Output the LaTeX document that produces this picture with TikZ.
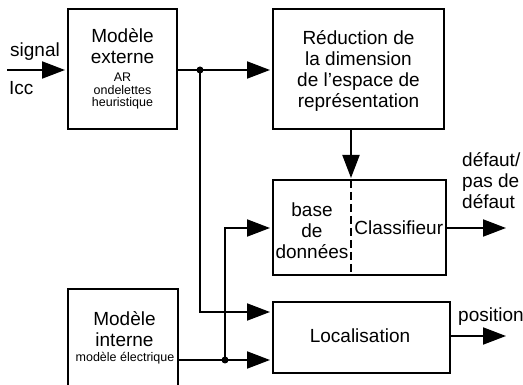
\documentclass[tikz,border=0pt]{standalone}
\usepackage{fontspec}
\setmainfont{Liberation Sans}
\usetikzlibrary{arrows.meta}
\begin{document}
\begin{tikzpicture}[x=1pt,y=-1pt,
  box/.style={draw,line width=2pt,inner sep=0pt},
  txt/.style={inner sep=0pt,align=center},
  big/.style={font=\fontsize{19}{21}\selectfont},
  small/.style={font=\fontsize{12.5}{12.5}\selectfont},
  conn/.style={line width=2pt},
  arr/.style={conn,-{Triangle[length=23pt,width=17pt]},shorten >=2pt},
  jdot/.style={circle,fill,inner sep=0pt,minimum size=7pt}]
\clip (0,0) rectangle (523,385);
% boxes
\node[box,minimum width=109pt,minimum height=120pt] (me) at (122.5,69) {};
\node[box,minimum width=171pt,minimum height=120pt] (red) at (358.5,69) {};
\node[box,minimum width=173pt,minimum height=95pt] (cls) at (359.5,227.5) {};
\node[box,minimum width=177pt,minimum height=71pt] (loc) at (361.5,337.5) {};
\node[box,minimum width=110pt,minimum height=130pt] (mi) at (123,354) {};
% texts
\node[txt,big] (metop) at (122.5,46) {Modèle\\externe};
\node[txt,small] (mebot) at (122.5,91) {AR\\ondelettes\\heuristique};
\node[txt,big] (redtxt) at (358.5,71) {Réduction de\\la dimension\\de l’espace de\\représentation};
\node[txt,big] (bdd) at (312,231) {base\\de\\données};
\node[txt,big,anchor=base] (clstxt) at (398.8,235) {Classifieur};
\node[txt,big,anchor=base] (loctxt) at (360,343) {Localisation};
\node[txt,big] (mitop) at (124.5,329.5) {Modèle\\interne};
\node[txt,small,anchor=base] (mibot) at (125,362) {modèle électrique};
\node[txt,big,anchor=base] (sig) at (35,57) {signal};
\node[txt,big,anchor=base west] (icc) at (9,95) {Icc};
\node[txt,big,anchor=north west,align=left] (def) at (462,152) {défaut/\\pas de\\défaut};
\node[txt,big,anchor=base west] (pos) at (458,322) {position};
% dashed separator
\coordinate (dtop) at (351,180);
\coordinate (dbot) at (351,275);
\draw[conn,dash pattern=on 8pt off 4pt] (dtop) -- (dbot);
% coordinates
\coordinate (in) at (7,70);
\coordinate (j1) at (200,70);
\coordinate (j1b) at (200,312);
\coordinate (j2) at (225,360);
\coordinate (j2t) at (225,228);
\coordinate (redb) at (351,129);
\coordinate (out1) at (506,228);
\coordinate (out2) at (506,336);
% connectors
\draw[arr] (in) -- (in -| me.west);
\draw[conn] (me.east |- j1) -- (j1);
\draw[arr] (j1) -- (j1 -| red.west);
\draw[arr] (j1) -- (j1b) -- (j1b -| loc.west);
\draw[conn] (mi.east |- j2) -- (j2);
\draw[arr] (j2) -- (j2 -| loc.west);
\draw[arr] (j2) -- (j2t) -- (j2t -| cls.west);
\draw[arr] (redb) -- (dtop);
\draw[arr,shorten >=0pt] (cls.east |- out1) -- (out1);
\draw[arr,shorten >=0pt] (loc.east |- out2) -- (out2);
\node[jdot] (d1) at (j1) {};
\node[jdot] (d2) at (j2) {};
\end{tikzpicture}
\end{document}
